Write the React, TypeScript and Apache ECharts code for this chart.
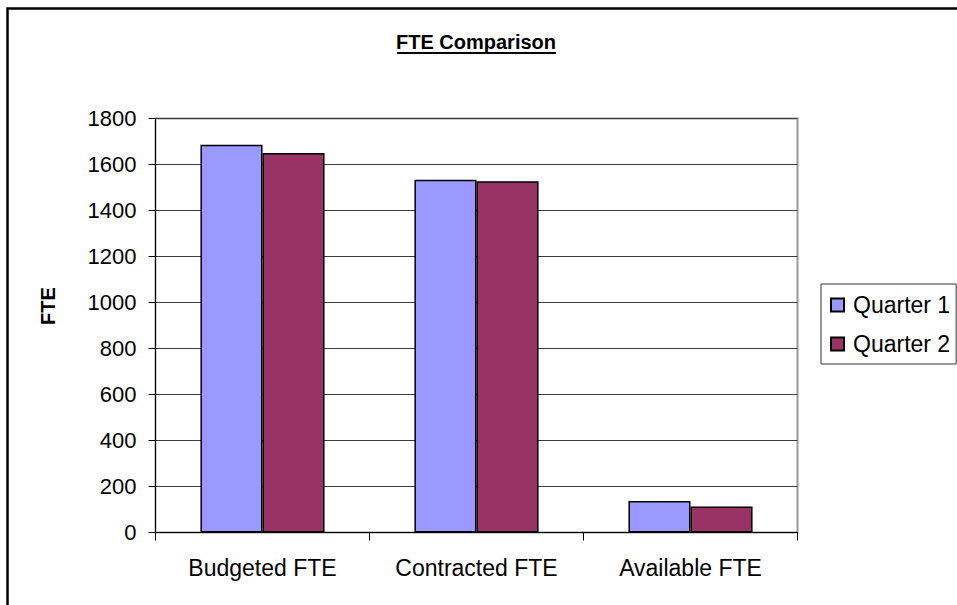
import React, { useEffect, useRef } from "react";
import * as echarts from "echarts";

const categories = ["Budgeted FTE", "Contracted FTE", "Available FTE"];
const quarter1 = [1686, 1534, 137];
const quarter2 = [1650, 1527, 113];
const seriesNames = ["Quarter 1", "Quarter 2"];
const titleText = "FTE Comparison";
const yAxisName = "FTE";

const FONT = '"Liberation Sans", Arial, sans-serif';

export default function App() {
  const ref = useRef<HTMLDivElement>(null);
  useEffect(() => {
    if (!ref.current) return;
    const chart = echarts.init(ref.current, null, { renderer: "svg" });
    chart.setOption({
      animation: false,
      backgroundColor: "#ffffff",
      title: {
        text: titleText,
        left: 476,
        top: 32,
        padding: 0,
        textAlign: "center",
        textStyle: { fontFamily: FONT, fontSize: 20, fontWeight: "bold", color: "#000" },
      },
      graphic: [
        {
          type: "rect",
          shape: { x: 7.5, y: 8.5, width: 1000, height: 700 },
          style: { fill: "none", stroke: "#000", lineWidth: 2.5 },
          silent: true,
        },
        {
          type: "line",
          shape: { x1: 397, y1: 53, x2: 556, y2: 53 },
          style: { stroke: "#000", lineWidth: 2 },
          silent: true,
        },
        {
          type: "text",
          x: 48,
          y: 306,
          rotation: Math.PI / 2,
          style: {
            text: yAxisName,
            font: 'bold 20px "Liberation Sans", Arial, sans-serif',
            fill: "#000",
            textAlign: "center",
            textVerticalAlign: "middle",
          },
        },
      ],
      legend: {
        orient: "vertical",
        left: 821,
        top: 284,
        padding: [9, 6, 8, 9],
        itemWidth: 13,
        itemHeight: 13,
        itemGap: 15,
        borderColor: "#333",
        borderWidth: 1,
        icon: "rect",
        data: seriesNames,
        textStyle: { fontFamily: FONT, fontSize: 23, color: "#000", lineHeight: 24, padding: [0, 0, 0, 4] },
      },
      grid: {
        left: 155.5,
        right: 159.5,
        top: 118.5,
        bottom: 72.5,
        show: true,
        borderColor: "#9a9a9a",
        borderWidth: 2,
        backgroundColor: "transparent",
      },
      xAxis: {
        type: "category",
        data: categories,
        axisLine: { lineStyle: { color: "#000", width: 1 } },
        axisTick: { show: true, length: 8, alignWithLabel: false, lineStyle: { color: "#000" } },
        axisLabel: { fontFamily: FONT, fontSize: 23, color: "#000", margin: 24 },
        splitLine: { show: false },
      },
      yAxis: {
        type: "value",
        min: 0,
        max: 1800,
        interval: 200,
        axisLine: { show: true, lineStyle: { color: "#000", width: 1 } },
        axisTick: { show: true, length: 7, lineStyle: { color: "#000" } },
        axisLabel: {
          fontFamily: FONT,
          fontSize: 22,
          color: "#000",
          margin: 19,
          formatter: (v: number) => String(v),
        },
        splitLine: { show: true, lineStyle: { color: "#3a3a3a", width: 1 } },
      },
      series: [
        {
          name: seriesNames[0],
          type: "bar",
          data: quarter1,
          barGap: "0%",
          barCategoryGap: "42%",
          itemStyle: { color: "#9999FF", borderColor: "#000", borderWidth: 1.5 },
        },
        {
          name: seriesNames[1],
          type: "bar",
          data: quarter2,
          barGap: "0%",
          barCategoryGap: "42%",
          itemStyle: { color: "#993366", borderColor: "#000", borderWidth: 1.5 },
        },
      ],
    });
    return () => chart.dispose();
  }, []);
  return (
    <div
      ref={ref}
      style={{ position: "fixed", left: 0, top: 0, width: 957, height: 605, background: "#fff" }}
    />
  );
}
